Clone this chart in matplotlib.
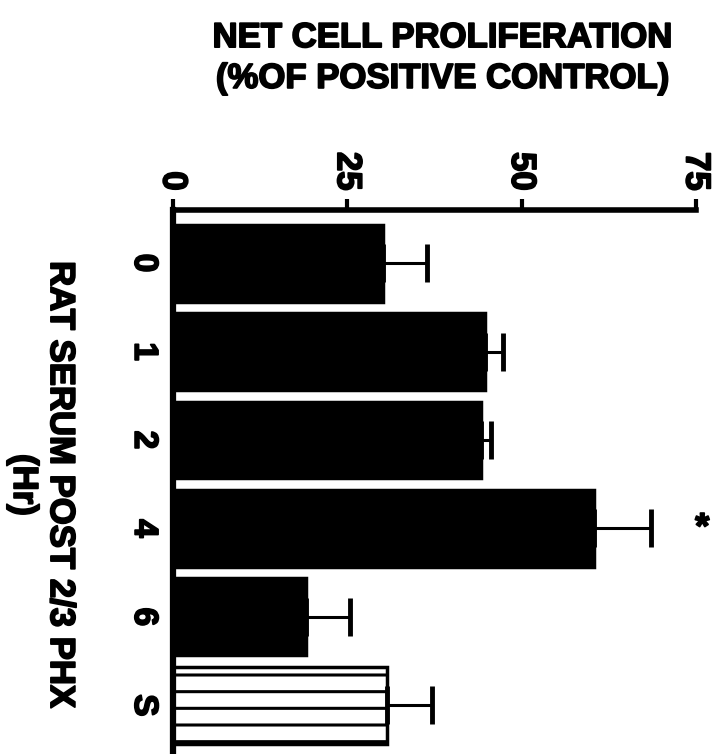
import numpy as np
import matplotlib
matplotlib.use('Agg')
import matplotlib.pyplot as plt
import matplotlib.patheffects as pe

groups = ['0', '1', '2', '4', '6', 'S']
prolif = [30.1, 44.8, 44.2, 60.4, 19.1, 30.7]
sem = [6.3, 2.5, 1.4, 8.2, 6.3, 6.5]
xticks = [0, 25, 50, 75]
signif = [False, False, False, True, False, False]

plt.rcParams['font.family'] = ['Liberation Sans', 'DejaVu Sans']
plt.rcParams['font.weight'] = 'bold'
plt.rcParams['hatch.linewidth'] = 2.2

heavy = [pe.withStroke(linewidth=1.3, foreground='black')]

fig = plt.figure(figsize=(7.24, 7.54), dpi=100)
ax = fig.add_axes([173/724., 0.0, (696-173)/724., 544/754.])

pos = np.arange(len(groups))
faces = ['black'] * (len(groups) - 1) + ['white']
hatches = [''] * (len(groups) - 1) + ['-']
bars = ax.barh(pos, prolif, height=0.87, color=faces, edgecolor='black', linewidth=2.5)
for b, h in zip(bars, hatches):
    b.set_hatch(h)

ax.errorbar(prolif, pos, xerr=[np.zeros(len(sem)), sem], fmt='none',
            ecolor='black', elinewidth=2.2, capsize=14, capthick=3.5)

for i in range(len(groups)):
    if signif[i]:
        ax.text(prolif[i] + sem[i] + 7.3, pos[i], '*', fontsize=26, fontweight='bold',
                ha='center', va='center', clip_on=False, path_effects=heavy)

ax.set_xlim(0, 75)
ax.set_ylim(5.55, -0.6)
ax.set_xticks(xticks)
ax.set_xticklabels([str(t) for t in xticks], rotation=-90, fontsize=25, fontweight='bold',
                   path_effects=heavy)
ax.xaxis.tick_top()
ax.tick_params(axis='x', direction='out', length=8, width=3, pad=6)
ax.set_yticks(pos)
ax.set_yticklabels(groups, rotation=-90, fontsize=24, fontweight='bold', va='center',
                   path_effects=heavy)
ax.tick_params(axis='y', length=0, pad=10)

for s in ['right', 'bottom']:
    ax.spines[s].set_visible(False)
ax.spines['top'].set_linewidth(4)
ax.spines['left'].set_linewidth(4.5)

fig.text(443/724., 1 - 58/754., 'NET CELL PROLIFERATION\n(%OF POSITIVE CONTROL)',
         ha='center', va='center', fontsize=25, fontweight='bold', linespacing=1.3,
         path_effects=heavy)
fig.text(42/724., 1 - 485/754., 'RAT SERUM POST 2/3 PHX\n(Hr)', rotation=-90,
         ha='center', va='center', multialignment='center',
         fontsize=25, fontweight='bold', linespacing=1.15, path_effects=heavy)

fig.savefig('out.png', dpi=100)
